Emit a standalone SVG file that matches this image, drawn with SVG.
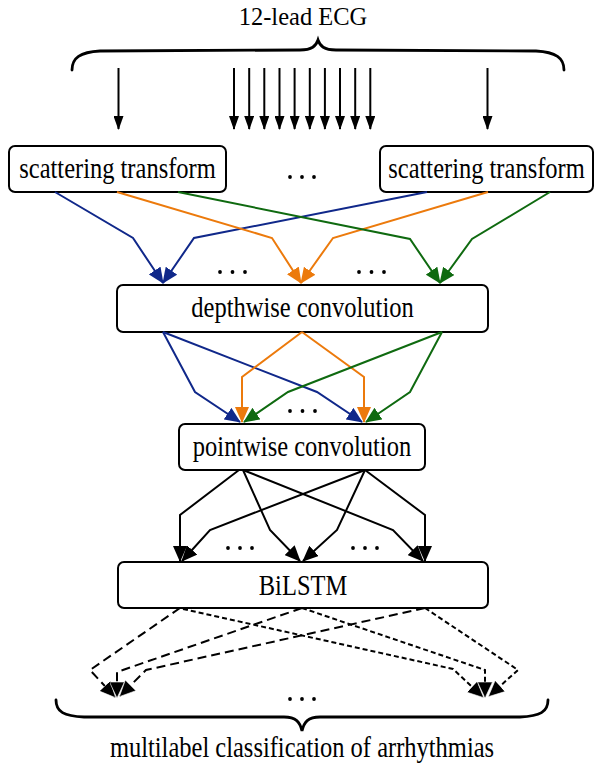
<svg xmlns="http://www.w3.org/2000/svg" width="594" height="770" viewBox="0 0 594 770">
<style>
.box{fill:#fff;stroke:#000;stroke-width:2}
.t{font-family:"Liberation Serif","Times New Roman",serif;font-size:24.5px;fill:#000;text-anchor:middle}
.b{fill:none;stroke:#10288a;stroke-width:2}
.o{fill:none;stroke:#ec7a0c;stroke-width:2}
.g{fill:none;stroke:#0f6a10;stroke-width:2}
.k{fill:none;stroke:#000;stroke-width:2}
.dl{fill:none;stroke:#000;stroke-width:2;stroke-dasharray:9 5}
.ds{fill:none;stroke:#000;stroke-width:2;stroke-dasharray:5 3}
.brace{fill:none;stroke:#000;stroke-width:2.8;stroke-linecap:round}
.dot{fill:#000}
</style>
<defs>
<marker id="ab" markerUnits="userSpaceOnUse" markerWidth="16" markerHeight="14" refX="15" refY="7" orient="auto" viewBox="0 0 16 14"><path d="M0,0 L16,7 L0,14 Z" fill="#10288a"/></marker>
<marker id="ao" markerUnits="userSpaceOnUse" markerWidth="16" markerHeight="14" refX="15" refY="7" orient="auto" viewBox="0 0 16 14"><path d="M0,0 L16,7 L0,14 Z" fill="#ec7a0c"/></marker>
<marker id="ag" markerUnits="userSpaceOnUse" markerWidth="16" markerHeight="14" refX="15" refY="7" orient="auto" viewBox="0 0 16 14"><path d="M0,0 L16,7 L0,14 Z" fill="#0f6a10"/></marker>
<marker id="ak" markerUnits="userSpaceOnUse" markerWidth="16" markerHeight="14" refX="15" refY="7" orient="auto" viewBox="0 0 16 14"><path d="M0,0 L16,7 L0,14 Z" fill="#000"/></marker>
<marker id="ad" markerUnits="userSpaceOnUse" markerWidth="16" markerHeight="15" refX="15" refY="7.5" orient="auto" viewBox="0 0 16 15"><path d="M0,0 L16,7.5 L0,15 Z" fill="#000" stroke="#fff" stroke-width="0.6"/></marker>
<marker id="ae" markerUnits="userSpaceOnUse" markerWidth="14" markerHeight="10" refX="13" refY="5" orient="auto" viewBox="0 0 14 10"><path d="M0,0 L14,5 L0,10 Z" fill="#000"/></marker>
</defs>

<g id="title">
<text class="t" x="303" y="25">12-lead ECG</text>
<path class="brace" d="M72,70 C72,58 80,52 100,51 L300,50 C312,50 316,46 318,40 C320,46 324,50 336,50 L536,51 C556,52 564,58 564,70"/>
</g>

<g id="ecg-leads">
<path class="k" marker-end="url(#ae)" d="M118.5,68 V129"/>
<path class="k" marker-end="url(#ae)" d="M234,68 V129"/>
<path class="k" marker-end="url(#ae)" d="M249.2,68 V129"/>
<path class="k" marker-end="url(#ae)" d="M264.3,68 V129"/>
<path class="k" marker-end="url(#ae)" d="M279.5,68 V129"/>
<path class="k" marker-end="url(#ae)" d="M294.6,68 V129"/>
<path class="k" marker-end="url(#ae)" d="M309.8,68 V129"/>
<path class="k" marker-end="url(#ae)" d="M324.9,68 V129"/>
<path class="k" marker-end="url(#ae)" d="M340,68 V129"/>
<path class="k" marker-end="url(#ae)" d="M355.2,68 V129"/>
<path class="k" marker-end="url(#ae)" d="M370.3,68 V129"/>
<path class="k" marker-end="url(#ae)" d="M487.5,68 V129"/>
</g>

<g id="scatter1">
<rect class="box" x="9" y="146" width="217" height="46" rx="6"/>
<text class="t" transform="translate(117.5,178) scale(1,1.18)">scattering transform</text>
</g>
<g id="scatter2">
<rect class="box" x="380" y="146" width="213" height="46" rx="6"/>
<text class="t" transform="translate(486.5,178) scale(1,1.18)">scattering transform</text>
</g>
<g id="depthwise">
<rect class="box" x="117" y="285" width="371" height="47" rx="6"/>
<text class="t" transform="translate(302.5,317) scale(1,1.18)">depthwise convolution</text>
</g>
<g id="pointwise">
<rect class="box" x="179" y="424" width="246" height="46" rx="6"/>
<text class="t" transform="translate(302,456) scale(1,1.18)">pointwise convolution</text>
</g>
<g id="bilstm">
<rect class="box" x="118" y="562" width="370" height="46" rx="6"/>
<text class="t" transform="translate(303,595) scale(1,1.18)">BiLSTM</text>
</g>

<g id="ellipses">
<circle class="dot" cx="290" cy="177" r="1.9"/><circle class="dot" cx="302" cy="177" r="1.9"/><circle class="dot" cx="314" cy="177" r="1.9"/>
<circle class="dot" cx="220" cy="272" r="1.9"/><circle class="dot" cx="232.5" cy="272" r="1.9"/><circle class="dot" cx="245" cy="272" r="1.9"/>
<circle class="dot" cx="359" cy="272" r="1.9"/><circle class="dot" cx="371.5" cy="272" r="1.9"/><circle class="dot" cx="384" cy="272" r="1.9"/>
<circle class="dot" cx="290" cy="411" r="1.9"/><circle class="dot" cx="302.5" cy="411" r="1.9"/><circle class="dot" cx="315" cy="411" r="1.9"/>
<circle class="dot" cx="228" cy="548" r="1.9"/><circle class="dot" cx="240" cy="548" r="1.9"/><circle class="dot" cx="252" cy="548" r="1.9"/>
<circle class="dot" cx="353" cy="548" r="1.9"/><circle class="dot" cx="365" cy="548" r="1.9"/><circle class="dot" cx="377" cy="548" r="1.9"/>
<circle class="dot" cx="290" cy="699" r="1.9"/><circle class="dot" cx="302" cy="699" r="1.9"/><circle class="dot" cx="314" cy="699" r="1.9"/>
</g>

<g id="connectors">
<path class="b" marker-end="url(#ab)" d="M55,192 L133,238 L163,283"/>
<path class="b" marker-end="url(#ab)" d="M427,192 L194,238 L163,283"/>
<path class="o" marker-end="url(#ao)" d="M117,192 L272,238 L301,283"/>
<path class="o" marker-end="url(#ao)" d="M488,192 L333,238 L301,283"/>
<path class="g" marker-end="url(#ag)" d="M178,192 L410,239 L440,283"/>
<path class="g" marker-end="url(#ag)" d="M550,192 L472,239 L440,283"/>

<path class="b" marker-end="url(#ab)" d="M163,332 L195,392 L240,422"/>
<path class="b" marker-end="url(#ab)" d="M163,332 L317,392 L362,422"/>
<path class="o" marker-end="url(#ao)" d="M302,332 L242,377 L242,422"/>
<path class="o" marker-end="url(#ao)" d="M302,332 L364,377 L364,422"/>
<path class="g" marker-end="url(#ag)" d="M442,332 L288,392 L244,422"/>
<path class="g" marker-end="url(#ag)" d="M442,332 L410,392 L366,422"/>

<path class="k" marker-end="url(#ak)" d="M239,470 L180,515 L180,561"/>
<path class="k" marker-end="url(#ak)" d="M243,470 L270,530 L300,561"/>
<path class="k" marker-end="url(#ak)" d="M243,470 L393,530 L423,561"/>
<path class="k" marker-end="url(#ak)" d="M365,470 L210,530 L182,561"/>
<path class="k" marker-end="url(#ak)" d="M365,470 L337,530 L303,561"/>
<path class="k" marker-end="url(#ak)" d="M365,470 L425,515 L425,561"/>

<path class="dl" marker-end="url(#ad)" d="M180,608 L90,670 L115,697"/>
<path class="dl" marker-end="url(#ad)" d="M302,608 L117,672 L117,697"/>
<path class="dl" marker-end="url(#ad)" d="M425,608 L146,670 L120,696"/>
<path class="ds" marker-end="url(#ad)" d="M183,609 L453,669 L483,697"/>
<path class="ds" marker-end="url(#ad)" d="M302,608 L485,670 L485,697"/>
<path class="ds" marker-end="url(#ad)" d="M425,608 L518,670 L489,696"/>
</g>

<g id="output">
<path class="brace" d="M56,700 C56,712 64,716 84,717 L284,717 C296,717 300,722 302,731 C304,722 308,717 320,717 L520,717 C540,716 548,712 548,700"/>
<text class="t" transform="translate(302,757) scale(1,1.18)">multilabel classification of arrhythmias</text>
</g>
</svg>
